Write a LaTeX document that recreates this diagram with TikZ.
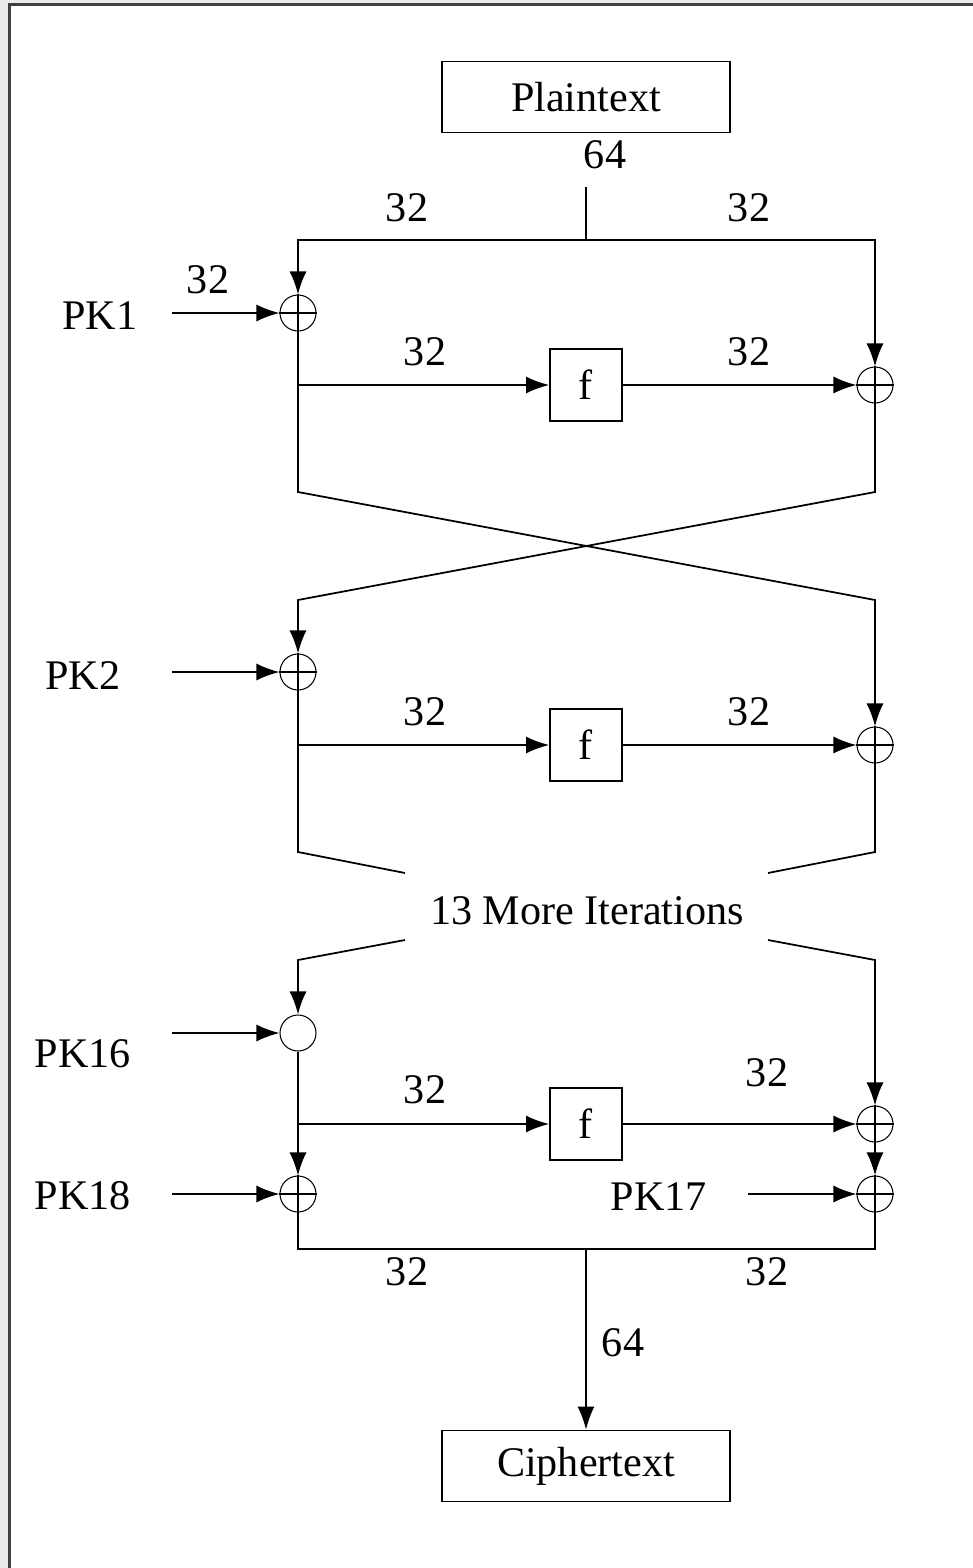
\documentclass[tikz,border=0pt]{standalone}
\usepackage{fontspec}
\setmainfont{Liberation Serif}
\usetikzlibrary{arrows.meta}

\begin{document}
\begin{tikzpicture}[x=0.02cm, y=-0.02cm, line width=1pt,
  every node/.style={font={\fontsize{24}{28}\selectfont}},
  arr/.style={-{Latex[length=0.46cm,width=0.34cm]}},
  xorgate/.style={draw, circle, line width=0.6pt, minimum size=0.72cm, inner sep=0pt},
  fbox/.style={draw, minimum size=1.44cm, inner sep=0pt},
  textbox/.style={draw, minimum width=5.76cm, minimum height=1.42cm, inner sep=0pt}]
\useasboundingbox (0,0) rectangle (973,1568);
% frame
\fill[black!8] (0,0) rectangle (973,4) (0,0) rectangle (9,1568);
\draw[black!75, line width=1.2pt] (9.5,1568) -- (9.5,4.5) -- (973,4.5);
% in and out
\node[textbox] (plain) at (586,97) {Plaintext};
\node[textbox] (cipher) at (586,1466) {Ciphertext};
\coordinate (top) at (586,187);
\coordinate (split) at (586,240);
\coordinate (join) at (586,1249);
% round 1
\node[xorgate] (xl1) at (298,313) {};
\node[fbox] (f1) at (586,385) {f};
\node[xorgate] (xr1) at (875,385) {};
\coordinate (k1) at (172,313);
% round 2
\node[xorgate] (xl2) at (298,672) {};
\node[fbox] (f2) at (586,745) {f};
\node[xorgate] (xr2) at (875,745) {};
\coordinate (k2) at (172,672);
% round 16 and output whitening
\node[xorgate] (c16) at (298,1033) {};
\node[fbox] (f3) at (586,1124) {f};
\node[xorgate] (xr16) at (875,1124) {};
\node[xorgate] (xl18) at (298,1194) {};
\node[xorgate] (xr17) at (875,1194) {};
\coordinate (k16) at (172,1033);
\coordinate (k18) at (172,1194);
\coordinate (k17) at (748,1194);
\foreach \g in {xl1,xr1,xl2,xr2,xr16,xl18,xr17}
  \draw[line width=0.6pt] (\g.north) -- (\g.south) (\g.west) -- (\g.east);
% labels
\node at (605,155) {64};
\node at (407,208) {32};
\node at (749,208) {32};
\node at (208,280) {32};
\node at (425,352) {32};
\node at (749,352) {32};
\node at (425,712) {32};
\node at (749,712) {32};
\node at (425,1090) {32};
\node at (767,1073) {32};
\node at (407,1272) {32};
\node at (767,1272) {32};
\node at (623,1343) {64};
\node (pk1) at (100,316) {PK1};
\node (pk2) at (83,676) {PK2};
\node (pk16) at (83,1054) {PK16};
\node (pk18) at (83,1196) {PK18};
\node (pk17) at (659,1197) {PK17};
\node (more) at (587,911) {13 More Iterations};
% wiring
\draw (top) -- (split);
\draw[arr] (split) -| (xl1.north);
\draw[arr] (split) -| (xr1.north);
\draw[arr] (k1) -- (xl1.west);
\draw[arr] (xl1 |- f1) -- (f1);
\draw[arr] (f1) -- (xr1);
\draw[arr] (xl1.south) -- (298,492) -- (875,600) -- (xr2.north);
\draw[arr] (xr1.south) -- (875,492) -- (298,600) -- (xl2.north);
\draw[arr] (k2) -- (xl2.west);
\draw[arr] (xl2 |- f2) -- (f2);
\draw[arr] (f2) -- (xr2);
\draw (xl2.south) -- (298,852) -- (405,873);
\draw (xr2.south) -- (875,852) -- (768,873);
\draw[arr] (405,940) -- (298,960) -- (c16.north);
\draw[arr] (768,940) -- (875,960) -- (xr16.north);
\draw[arr] (k16) -- (c16.west);
\draw[arr] (c16.south) -- (xl18.north);
\draw[arr] (c16 |- f3) -- (f3);
\draw[arr] (f3) -- (xr16);
\draw[arr] (xr16.south) -- (xr17.north);
\draw[arr] (k18) -- (xl18.west);
\draw[arr] (k17) -- (xr17.west);
\draw (xl18.south) |- (join) -| (xr17.south);
\draw[arr] (join) -- (cipher);
\end{tikzpicture}
\end{document}
